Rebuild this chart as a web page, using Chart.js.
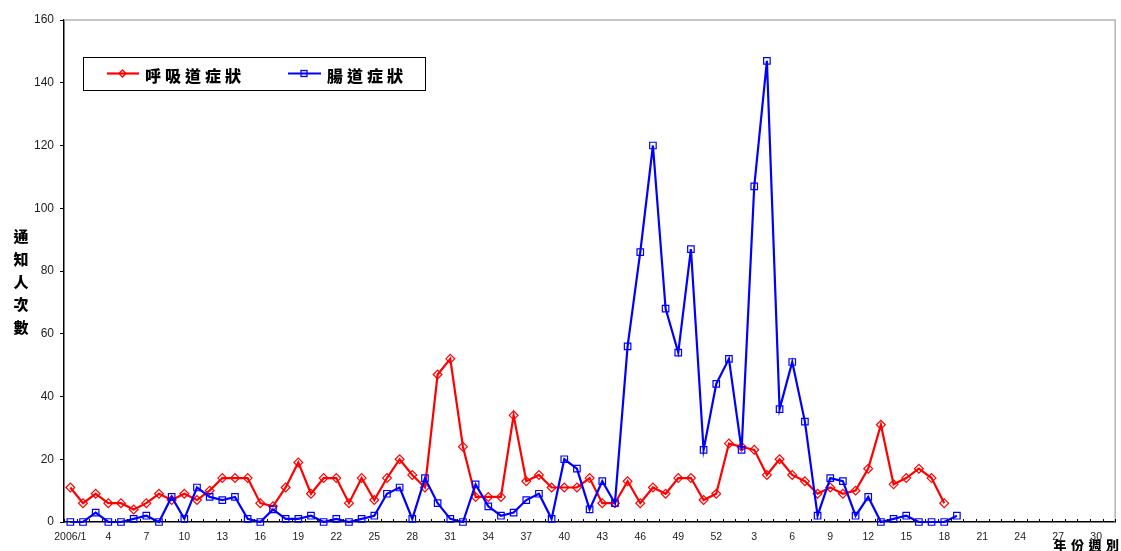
<!DOCTYPE html>
<html>
<head>
<meta charset="utf-8">
<style>
  html, body { margin: 0; padding: 0; background: #fff; }
  canvas { display: block; }
</style>
<script src="https://cdn.jsdelivr.net/npm/chart.js@4/dist/chart.umd.min.js"></script>
</head>
<body>
<canvas id="grafico" width="1121" height="551"></canvas>
<script>
const semanas = [
  "2006/1", "2", "3", "4", "5", "6", "7", "8", "9", "10", "11", "12", "13",
  "14", "15", "16", "17", "18", "19", "20", "21", "22", "23", "24", "25", "26",
  "27", "28", "29", "30", "31", "32", "33", "34", "35", "36", "37", "38", "39",
  "40", "41", "42", "43", "44", "45", "46", "47", "48", "49", "50", "51", "52",
  "1", "2", "3", "4", "5", "6", "7", "8", "9", "10", "11", "12", "13", "14",
  "15", "16", "17", "18", "19", "20", "21", "22", "23", "24", "25", "26", "27",
  "28", "29", "30", "31",
];
const respiratorio = [
  11, 6, 9, 6, 6, 4, 6, 9, 7, 9, 7, 10, 14, 14, 14, 6, 5, 11, 19, 9, 14, 14, 6,
  14, 7, 14, 20, 15, 11, 47, 52, 24, 8, 8, 8, 34, 13, 15, 11, 11, 11, 14, 6, 6,
  13, 6, 11, 9, 14, 14, 7, 9, 25, 24, 23, 15, 20, 15, 13, 9, 11, 9, 10, 17, 31,
  12, 14, 17, 14, 6,
];
const intestinal = [
  0, 0, 3, 0, 0, 1, 2, 0, 8, 1, 11, 8, 7, 8, 1, 0, 4, 1, 1, 2, 0, 1, 0, 1, 2, 9,
  11, 1, 14, 6, 1, 0, 12, 5, 2, 3, 7, 9, 1, 20, 17, 4, 13, 6, 56, 86, 120, 68,
  54, 87, 23, 44, 52, 23, 107, 147, 36, 51, 32, 2, 14, 13, 2, 8, 0, 1, 2, 0, 0,
  0, 2,
];
const nombreResp = "呼吸道症狀";
const nombreInt = "腸道症狀";
const tituloY = ["通", "知", "人", "次", "數"];
const tituloX = "年份週別";

const fuenteCJK = '"Noto Sans CJK TC", sans-serif';

// legend box, stacked axis titles, frame and inward x ticks
const extras = {
  id: "extras",
  afterDraw(chart) {
    const ctx = chart.ctx;
    const area = chart.chartArea;
    const x = chart.scales.x;

    ctx.save();
    ctx.strokeStyle = "#b4b4b4";
    ctx.lineWidth = 1.5;
    ctx.beginPath();
    ctx.moveTo(area.left, area.top);
    ctx.lineTo(area.right, area.top);
    ctx.lineTo(area.right, area.bottom);
    ctx.stroke();

    ctx.strokeStyle = "#000";
    ctx.lineWidth = 1;
    const paso = x.getPixelForValue(1) - x.getPixelForValue(0);
    ctx.beginPath();
    for (let i = 0; i <= semanas.length; i++) {
      const px = Math.round(x.getPixelForValue(0) + (i - 0.5) * paso) + 0.5;
      ctx.moveTo(px, area.bottom);
      ctx.lineTo(px, area.bottom - 3);
    }
    ctx.stroke();

    // leyenda
    ctx.fillStyle = "#fff";
    ctx.fillRect(83.5, 57.5, 342, 33);
    ctx.strokeStyle = "#000";
    ctx.lineWidth = 1;
    ctx.strokeRect(83.5, 57.5, 342, 33);

    ctx.lineWidth = 2.2;
    ctx.strokeStyle = "#ff0000";
    ctx.beginPath();
    ctx.moveTo(107, 73.5);
    ctx.lineTo(139, 73.5);
    ctx.stroke();
    ctx.lineWidth = 1.3;
    ctx.beginPath();
    ctx.moveTo(122.5, 70);
    ctx.lineTo(126, 73.5);
    ctx.lineTo(122.5, 77);
    ctx.lineTo(119, 73.5);
    ctx.closePath();
    ctx.stroke();

    ctx.lineWidth = 2.2;
    ctx.strokeStyle = "#0000ff";
    ctx.beginPath();
    ctx.moveTo(288, 73.5);
    ctx.lineTo(321, 73.5);
    ctx.stroke();
    ctx.lineWidth = 1.3;
    ctx.strokeRect(301, 70.5, 6, 6);

    ctx.fillStyle = "#000";
    ctx.font = "900 16px " + fuenteCJK;
    ctx.textBaseline = "middle";
    ctx.textAlign = "center";
    [...nombreResp].forEach((c, i) => ctx.fillText(c, 153 + i * 20, 76));
    [...nombreInt].forEach((c, i) => ctx.fillText(c, 335 + i * 20, 76));

    // titulos de ejes
    ctx.font = "900 15px " + fuenteCJK;
    tituloY.forEach((c, i) => ctx.fillText(c, 21, 236 + i * 22.9));
    ctx.font = "900 13px " + fuenteCJK;
    [...tituloX].forEach((c, i) => ctx.fillText(c, 1060 + i * 17.5, 545.5));
    ctx.restore();
  },
};

new Chart(document.getElementById("grafico"), {
  type: "line",
  plugins: [extras],
  data: {
    labels: semanas,
    datasets: [
      {
        label: nombreResp,
        data: respiratorio,
        borderColor: "#ff0000",
        borderWidth: 2.2,
        pointStyle: "rectRot",
        pointRadius: 4.4,
        pointBorderWidth: 1.2,
        pointBorderColor: "#ff0000",
        pointBackgroundColor: "transparent",
        tension: 0,
        clip: false,
        order: 2,
      },
      {
        label: nombreInt,
        data: intestinal,
        borderColor: "#0000ff",
        borderWidth: 2.2,
        pointStyle: "rect",
        pointRadius: 4.6,
        pointBorderWidth: 1.2,
        pointBorderColor: "#0000ff",
        pointBackgroundColor: "transparent",
        tension: 0,
        clip: false,
        order: 1,
      },
    ],
  },
  options: {
    responsive: false,
    animation: false,
    layout: { padding: { left: 0, right: 4, top: 20, bottom: 0 } },
    plugins: {
      legend: { display: false },
      title: { display: false },
      tooltip: { enabled: false },
    },
    scales: {
      x: {
        offset: true,
        grid: { display: false },
        border: { color: "#000", width: 1.5 },
        ticks: {
          autoSkip: false,
          maxRotation: 0,
          minRotation: 0,
          padding: 1,
          color: "#222",
          font: { family: '"Liberation Sans", Arial, sans-serif', size: 10.5 },
          callback(value, index) {
            return index % 3 === 0 ? semanas[index] : "";
          },
        },
        afterFit(scale) {
          scale.height = 29;
        },
      },
      y: {
        min: 0,
        max: 160,
        grid: { drawOnChartArea: false, tickLength: 4, color: "#000" },
        border: { color: "#000", width: 1.5 },
        ticks: {
          stepSize: 20,
          padding: 6,
          color: "#222",
          font: { family: '"Liberation Sans", Arial, sans-serif', size: 12 },
        },
        afterFit(scale) {
          scale.width = 64;
        },
      },
    },
  },
});
</script>
</body>
</html>
